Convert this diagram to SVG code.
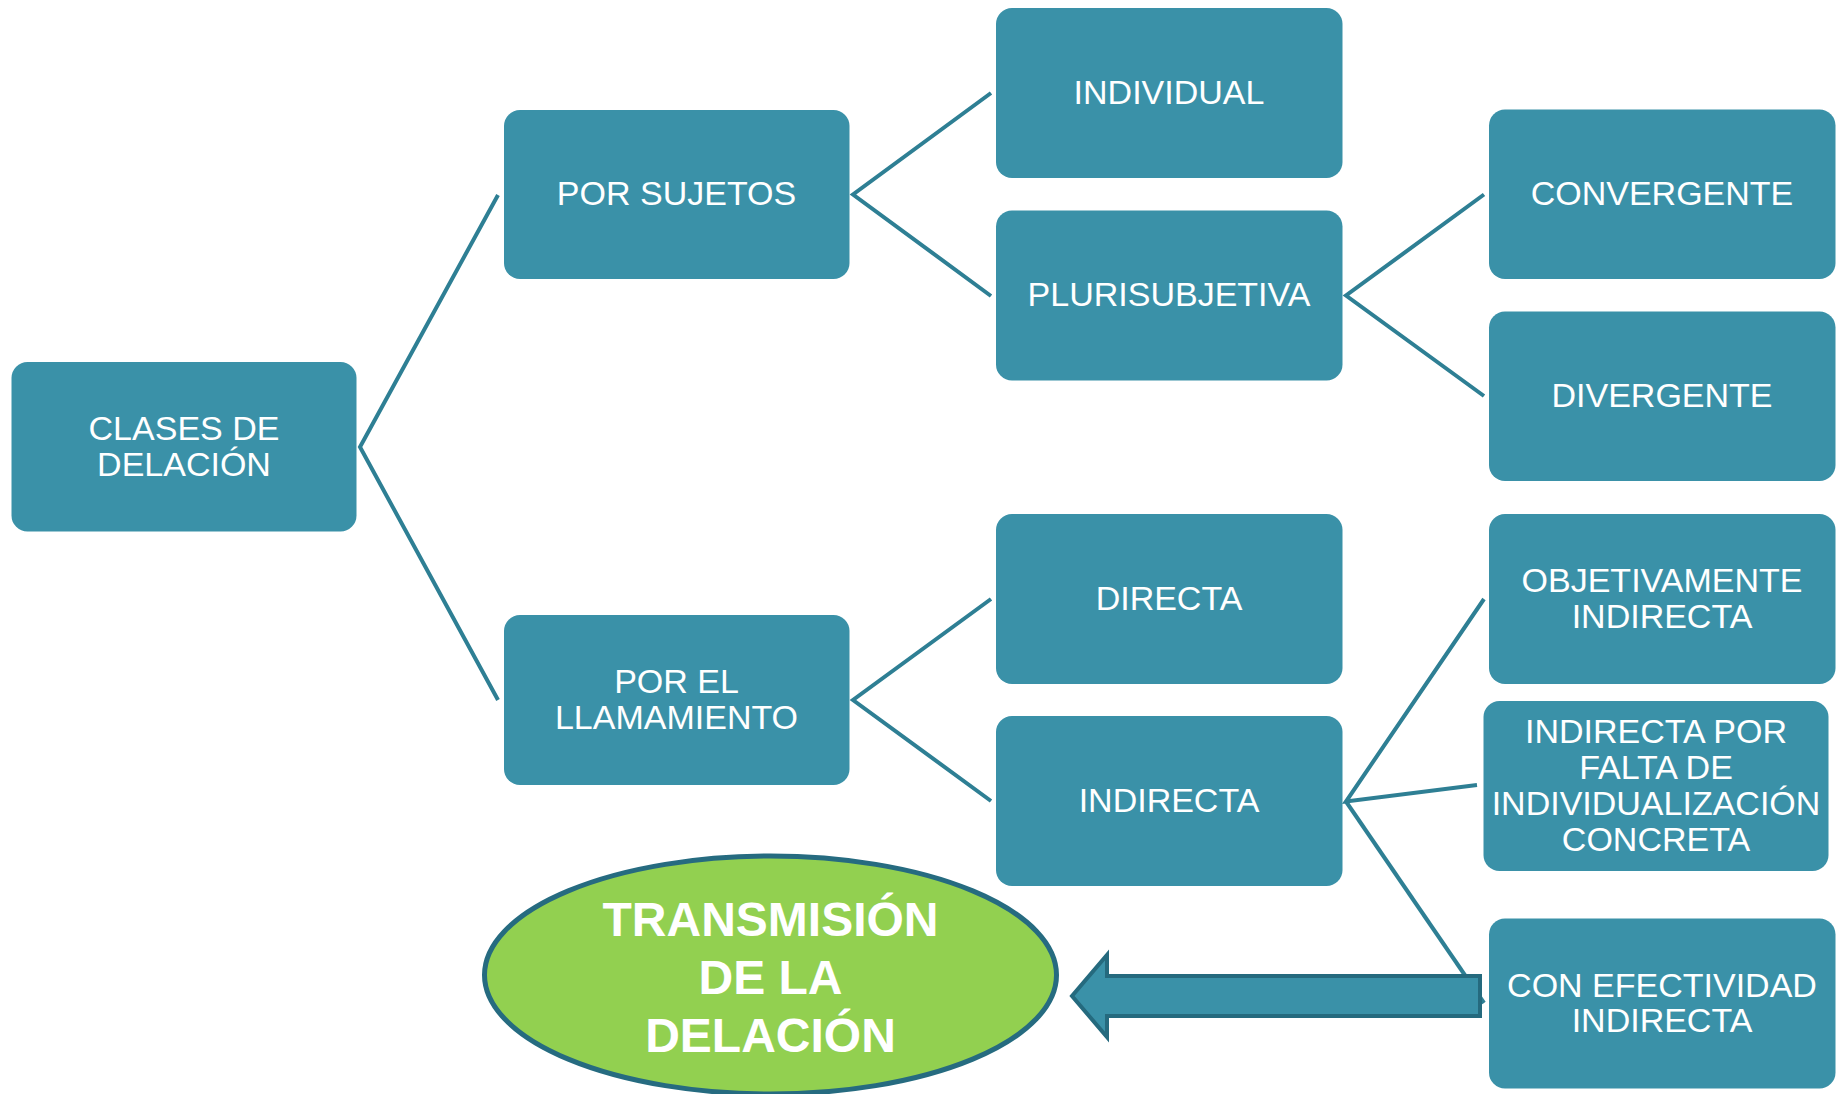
<svg xmlns="http://www.w3.org/2000/svg" width="1839" height="1094" viewBox="0 0 1839 1094">
<style>
.box{fill:#3a91a8;}
.t{fill:#ffffff;font-family:"Liberation Sans",Arial,sans-serif;font-size:34px;text-anchor:middle;}
.tb{fill:#ffffff;font-family:"Liberation Sans",Arial,sans-serif;font-size:48px;font-weight:bold;text-anchor:middle;}
.c{fill:none;stroke:#2e7f94;stroke-width:4;stroke-linejoin:miter;}
</style>
<rect width="1839" height="1094" fill="#ffffff"/>
<g id="connectors">
<polyline class="c" points="498,195 360,447 498,700"/>
<polyline class="c" points="991,93 853,194.5 991,296"/>
<polyline class="c" points="1484,194.5 1346,295.5 1484,396"/>
<polyline class="c" points="991,599 853,700 991,801"/>
<polyline class="c" points="1484,599 1346,801.5 1477,785"/>
<polyline class="c" points="1346,801.5 1484,1003"/>
</g>
<g id="n-clases"><rect class="box" x="11.5" y="362" width="345" height="169.5" rx="16"/><text class="t" x="184" y="439.5">CLASES DE</text><text class="t" x="184" y="476">DELACIÓN</text></g>
<g id="n-porsujetos"><rect class="box" x="504" y="110" width="345.5" height="169" rx="16"/><text class="t" x="676.5" y="204.5">POR SUJETOS</text></g>
<g id="n-llamamiento"><rect class="box" x="504" y="615" width="345.5" height="170" rx="16"/><text class="t" x="676.5" y="693">POR EL</text><text class="t" x="676.5" y="729">LLAMAMIENTO</text></g>
<g id="n-individual"><rect class="box" x="996" y="8" width="346.5" height="170" rx="16"/><text class="t" x="1169" y="104">INDIVIDUAL</text></g>
<g id="n-plurisubjetiva"><rect class="box" x="996" y="210.5" width="346.5" height="170" rx="16"/><text class="t" x="1169" y="306">PLURISUBJETIVA</text></g>
<g id="n-directa"><rect class="box" x="996" y="514" width="346.5" height="170" rx="16"/><text class="t" x="1169" y="610">DIRECTA</text></g>
<g id="n-indirecta"><rect class="box" x="996" y="716" width="346.5" height="170" rx="16"/><text class="t" x="1169" y="812">INDIRECTA</text></g>
<g id="n-convergente"><rect class="box" x="1489" y="109.5" width="346.5" height="169.5" rx="16"/><text class="t" x="1662" y="204.5">CONVERGENTE</text></g>
<g id="n-divergente"><rect class="box" x="1489" y="311.5" width="346.5" height="169.5" rx="16"/><text class="t" x="1662" y="407">DIVERGENTE</text></g>
<g id="n-objetivamente"><rect class="box" x="1489" y="514" width="346.5" height="170" rx="16"/><text class="t" x="1662" y="592">OBJETIVAMENTE</text><text class="t" x="1662" y="628">INDIRECTA</text></g>
<g id="n-falta"><rect class="box" x="1483.5" y="701" width="345" height="170" rx="16"/><text class="t" x="1656" y="743">INDIRECTA POR</text><text class="t" x="1656" y="779">FALTA DE</text><text class="t" x="1656" y="815">INDIVIDUALIZACIÓN</text><text class="t" x="1656" y="851">CONCRETA</text></g>
<g id="n-efectividad"><rect class="box" x="1489" y="918.5" width="346.5" height="170" rx="16"/><text class="t" x="1662" y="996.5">CON EFECTIVIDAD</text><text class="t" x="1662" y="1032">INDIRECTA</text></g>
<g id="n-arrow"><polygon points="1480,976 1107,976 1107,955 1072,996 1107,1037 1107,1016 1480,1016" fill="#3a91a8" stroke="#256a7e" stroke-width="4"/></g>
<g id="n-transmision"><ellipse cx="770.5" cy="975" rx="286" ry="119" fill="#92d050" stroke="#266b80" stroke-width="5"/><text class="tb" x="770.5" y="936">TRANSMISIÓN</text><text class="tb" x="770.5" y="994">DE LA</text><text class="tb" x="770.5" y="1051.5">DELACIÓN</text></g>
</svg>
